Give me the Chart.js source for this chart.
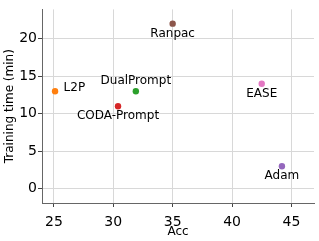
<!DOCTYPE html>
<html><head><meta charset="utf-8">
<script src="https://cdn.jsdelivr.net/npm/chart.js@4/dist/chart.umd.min.js"></script>
<style>html,body{margin:0;padding:0;background:#fff}#w{width:319px;height:241px}</style>
</head><body><div id="w"><canvas id="c"></canvas></div>
<script>
const methods = ["L2P","DualPrompt","CODA-Prompt","Ranpac","EASE","Adam"];
const accValues = [25.1, 31.9, 30.4, 35.0, 42.5, 44.2];
const timeValues = [13, 13, 11, 22, 14, 3];
const colors = ["#ff7f0e","#2ca02c","#d62728","#8c564b","#e377c2","#9467bd"];
const labelPlace = ["right","above","below","below","below","below"];
const xTicks = [25,30,35,40,45];
const yTicks = [0,5,10,15,20];

const FONT = "'DejaVu Sans', sans-serif";
const labelPlugin = {
  id:'pointLabels',
  afterDatasetsDraw(chart){
    const ctx = chart.ctx, xs = chart.scales.x, ys = chart.scales.y;
    ctx.save();
    ctx.font = "12px " + FONT;
    ctx.fillStyle = "#000";
    methods.forEach((m,i)=>{
      const px = xs.getPixelForValue(accValues[i]);
      const py = ys.getPixelForValue(timeValues[i]);
      const p = labelPlace[i];
      if (p==="right"){ ctx.textAlign="left"; ctx.textBaseline="middle"; ctx.fillText(m, px+8.5, py-3.5); }
      else if (p==="above"){ ctx.textAlign="center"; ctx.textBaseline="bottom"; ctx.fillText(m, px, py-4); }
      else { ctx.textAlign="center"; ctx.textBaseline="top"; ctx.fillText(m, px, py+4); }
    });
    ctx.restore();
  }
};

new Chart(document.getElementById('c'), {
  type:'scatter',
  data:{ datasets: methods.map((m,i)=>({
    label:m,
    data:[{x:accValues[i], y:timeValues[i]}],
    backgroundColor:colors[i], borderColor:colors[i],
    pointRadius:3.2, pointHoverRadius:3.2, borderWidth:0
  }))},
  options:{
    responsive:true, maintainAspectRatio:false, animation:false,
    layout:{padding:{top:4,right:5,left:0,bottom:0}},
    plugins:{legend:{display:false}, tooltip:{enabled:false}},
    scales:{
      x:{type:'linear', min:24, max:46.9,
        afterBuildTicks(s){ s.ticks = xTicks.map(v=>({value:v})); },
        afterFit(s){ s.height = 38; },
        grid:{color:'#d8d8d8', lineWidth:1, tickLength:4, tickColor:'#444'},
        border:{color:'#666', width:1},
        ticks:{font:{family:FONT,size:14}, color:'#000', padding:7, maxRotation:0},
        title:{display:true, text:'Acc', font:{family:FONT,size:12}, color:'#000', padding:{top:0,bottom:2}}
      },
      y:{type:'linear', min:-1.9, max:23.9,
        afterBuildTicks(s){ s.ticks = yTicks.map(v=>({value:v})); },
        afterFit(s){ s.width = 42; },
        grid:{color:'#d8d8d8', lineWidth:1, tickLength:4, tickColor:'#444'},
        border:{color:'#666', width:1},
        ticks:{font:{family:FONT,size:14}, color:'#000', padding:1},
        title:{display:true, text:'Training time (min)', font:{family:FONT,size:12}, color:'#000', padding:{top:3,bottom:0}}
      }
    }
  },
  plugins:[labelPlugin]
});
</script></body></html>
